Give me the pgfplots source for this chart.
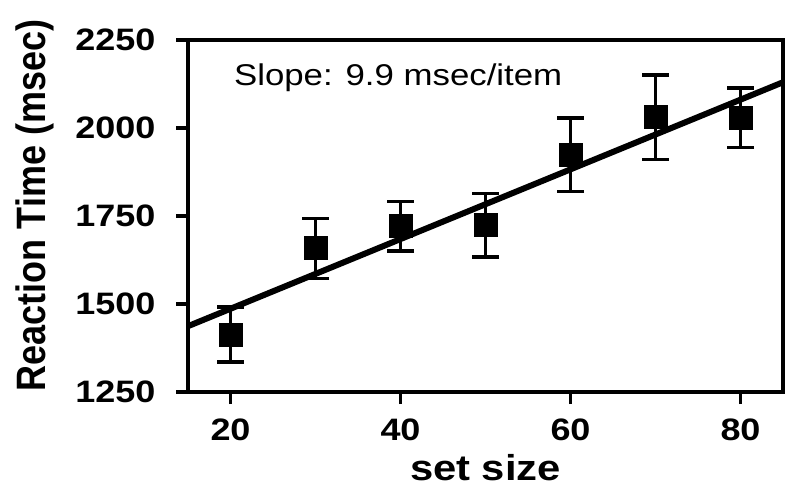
\documentclass[border=0pt]{standalone}
\usepackage{fontspec}
\setmainfont{Liberation Sans}
\newfontfamily\wide[FakeStretch=1.16]{Liberation Sans}
\usepackage{pgfplots}
\pgfplotsset{compat=1.18}
\begin{document}
\begin{tikzpicture}[x=1pt,y=1pt]
  \path[use as bounding box] (0,0) rectangle (800,496);
  \begin{axis}[
    at={(188pt,104pt)}, anchor=south west,
    scale only axis, width=595pt, height=352pt,
    xmin=15, xmax=85, ymin=1250, ymax=2250,
    xtick={20,40,60,80}, ytick={1250,1500,1750,2000,2250},
    axis line style={line width=4.5pt},
    every tick/.style={black, line width=3.5pt},
    tick align=outside, major tick length=12pt,
    xtick pos=bottom, ytick pos=left,
    /pgf/number format/assume math mode=true,
    /pgf/number format/1000 sep={},
    ticklabel style={font=\wide\bfseries\fontsize{31}{31}\selectfont},
    xticklabel style={yshift=-11pt},
    yticklabel style={xshift=-17pt},
    xlabel={set size},
    ylabel={Reaction Time (msec)},
    xlabel style={font=\wide\bfseries\fontsize{36}{36}\selectfont,
                  at={(axis description cs:0.5,-0.215)}, anchor=center},
    ylabel style={font=\bfseries\fontsize{36}{36}\selectfont,
                  at={(axis description cs:-0.257,0.53)}, anchor=center,
                  yscale=1.14},
  ]
    \addplot[only marks, black, mark=square*,
             mark options={mark size=11.5pt, line width=0pt},
             error bars/.cd, y dir=both, y explicit,
             error bar style={line width=3.5pt},
             error mark options={rotate=90, mark size=13.5pt, line width=3.5pt}]
      coordinates {
      (20,1413) +- (0,78)
      (30,1658) +- (0,85)
      (40,1721) +- (0,70)
      (50,1724) +- (0,90)
      (60,1924) +- (0,105)
      (70,2030) +- (0,120)
      (80,2029) +- (0,85)
      };
    \addplot[black, line width=6pt] coordinates {(15,1437) (85,2130)};
    \node[anchor=west, inner sep=0pt,
          font=\wide\fontsize{30}{30}\selectfont] at (axis cs:20.4,2142)
          {Slope: 9.9 msec/item};
  \end{axis}
\end{tikzpicture}
\end{document}
